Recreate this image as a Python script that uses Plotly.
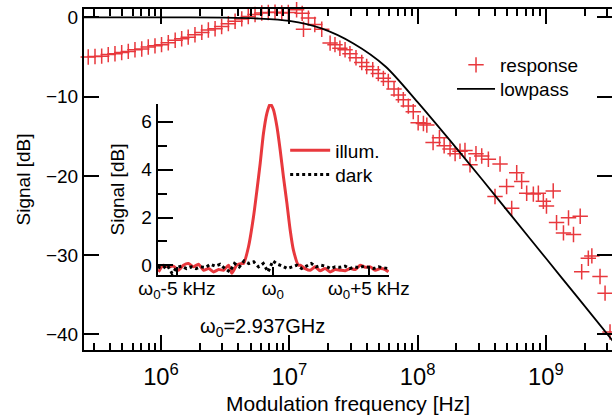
import plotly.graph_objects as go

# ---------------- main panel data ----------------
resp_freq = [2.41e5, 2.71e5, 3.06e5, 3.45e5, 3.88e5, 4.38e5, 4.94e5, 5.56e5, 6.27e5, 7.08e5,
             7.96e5, 8.98e5, 1.01e6, 1.14e6, 1.29e6, 1.45e6, 1.63e6, 1.84e6, 2.08e6, 2.34e6,
             2.64e6, 2.97e6, 3.35e6, 3.78e6, 4.26e6, 4.79e6, 5.41e6, 6.10e6, 6.86e6, 7.74e6,
             8.73e6, 9.82e6, 1.14e7, 1.26e7, 1.29e7, 1.41e7, 1.58e7, 1.79e7, 2.08e7, 2.27e7,
             2.48e7, 2.72e7, 2.97e7, 3.31e7, 3.67e7, 4.01e7, 4.47e7, 4.94e7, 5.41e7, 5.91e7,
             6.55e7, 7.08e7, 7.74e7, 8.47e7, 9.25e7, 1.01e8, 1.11e8, 1.18e8, 1.32e8, 1.48e8,
             1.61e8, 1.79e8, 1.96e8, 2.14e8, 2.34e8, 2.56e8, 2.85e8, 3.16e8, 3.56e8, 4.01e8,
             4.39e8, 4.94e8, 5.41e8, 5.92e8, 6.47e8, 7.08e8, 7.98e8, 8.73e8, 9.55e8, 1.01e9,
             1.14e9, 1.21e9, 1.37e9, 1.50e9, 1.64e9, 1.85e9, 1.90e9, 2.14e9, 2.28e9, 2.64e9,
             2.89e9, 3.16e9]
resp_db = [-5.1, -5.0, -4.95, -4.9, -4.7, -4.6, -4.45, -4.3, -4.1, -4.0,
           -3.75, -3.6, -3.45, -3.2, -2.9, -2.7, -2.5, -2.2, -1.9, -1.6,
           -1.45, -1.15, -0.8, -0.5, -0.2, 0.1, 0.35, 0.55, 0.6, 0.65,
           0.55, 0.6, 0.95, 0.5, -1.5, -0.1, -0.9, -1.5, -3.25, -3.45,
           -3.9, -4.1, -4.6, -5.1, -5.7, -6.2, -6.6, -7.1, -7.7, -8.1,
           -9.05, -9.8, -10.4, -11.2, -11.9, -13.3, -13.4, -13.6, -15.8, -15.2,
           -16.2, -16.6, -17.2, -16.9, -16.8, -18.6, -17.2, -17.5, -17.9, -22.6,
           -18.5, -21.35, -24.1, -19.6, -20.7, -22.2, -22.3, -22.2, -23.2, -23.8,
           -21.9, -25.9, -27.2, -25.3, -27.4, -25.1, -32.1, -30.4, -30.1, -32.7,
           -34.8, -39.7]

lp_freq = [2.5e5, 1e6, 3.16e6, 5.62e6, 1e7, 1.78e7, 3.16e7, 5.62e7, 1e8,
           1.78e8, 3.16e8, 5.62e8, 1e9, 1.78e9, 3.31e9]
lp_db = [0.0, 0.0, -0.05, -0.15, -0.45, -1.4, -3.3, -6.2, -10.7,
         -15.5, -20.4, -25.4, -30.4, -35.4, -40.8]

# ---------------- inset data ----------------
illum_khz = [-5.96, -5.70, -5.44, -5.18, -4.92, -4.66, -4.40, -4.14, -3.88, -3.61,
             -3.35, -3.09, -2.83, -2.57, -2.31, -2.14, -1.88, -1.61, -1.53, -1.27,
             -1.01, -0.83, -0.66, -0.49, -0.31, -0.14, 0.03, 0.21, 0.38, 0.55,
             0.73, 0.90, 1.07, 1.33, 1.42, 1.68, 1.94, 2.20, 2.46, 2.72,
             2.98, 3.24, 3.51, 3.77, 4.03, 4.29, 4.55, 4.81, 5.07, 5.33,
             5.59, 5.85, 6.02]
illum_db = [-0.27, 0.01, -0.06, -0.03, -0.20, 0.01, 0.08, -0.06, 0.05, -0.20,
            -0.13, -0.27, -0.17, -0.20, 0.01, -0.33, 0.01, 0.08, 0.08, 0.78,
            2.03, 3.15, 4.27, 5.52, 6.36, 6.75, 6.50, 5.80, 4.82, 3.70,
            2.60, 1.48, 0.64, 0.01, 0.01, -0.13, -0.20, -0.06, -0.22, -0.13,
            -0.27, -0.17, -0.20, -0.22, -0.13, -0.17, 0.01, -0.08, -0.06, -0.20,
            -0.13, -0.17, -0.27]

dark_khz = [-6.0, -5.75, -5.5, -5.25, -5.0, -4.75, -4.5, -4.25, -4.0, -3.75,
            -3.5, -3.25, -3.0, -2.75, -2.5, -2.25, -2.0, -1.75, -1.5, -1.25,
            -1.0, -0.75, -0.5, -0.25, 0.0, 0.25, 0.5, 0.75, 1.0, 1.25,
            1.5, 1.75, 2.0, 2.25, 2.5, 2.75, 3.0, 3.25, 3.5, 3.75,
            4.0, 4.25, 4.5, 4.75, 5.0, 5.25, 5.5, 5.75, 6.0]
dark_db = [-0.06, -0.13, 0.01, -0.34, -0.08, -0.03, -0.13, -0.06, -0.13, -0.06,
           -0.08, 0.05, -0.03, 0.05, -0.13, -0.27, 0.08, -0.06, 0.19, 0.08,
           0.15, -0.06, 0.08, -0.27, 0.19, 0.05, -0.03, -0.13, -0.06, 0.01,
           -0.13, -0.03, 0.08, -0.06, 0.01, -0.03, -0.13, -0.06, -0.08, -0.03,
           -0.13, -0.06, -0.10, -0.03, -0.08, -0.13, -0.06, -0.08, -0.13]

inset_ticks = [-5, 0, 5]
inset_ticktext = ["ω<sub>0</sub>-5 kHz", "ω<sub>0</sub>", "ω<sub>0</sub>+5 kHz"]

RED = "#e8383d"
FONT = "Liberation Sans, Arial, sans-serif"
FS = 19

fig = go.Figure()
fig.add_trace(go.Scatter(x=resp_freq, y=resp_db, mode="markers", name="response",
                         marker=dict(symbol="cross-thin", size=11,
                                     line=dict(width=1.5, color=RED), color=RED),
                         cliponaxis=False, legend="legend"))
fig.add_trace(go.Scatter(x=lp_freq, y=lp_db, mode="lines", name="lowpass",
                         line=dict(color="black", width=1.8, shape="spline", smoothing=0.8),
                         legend="legend2"))
fig.add_trace(go.Scatter(x=illum_khz, y=illum_db, mode="lines", name="illum.",
                         line=dict(color=RED, width=3, shape="spline", smoothing=0.6),
                         xaxis="x2", yaxis="y2", legend="legend3"))
fig.add_trace(go.Scatter(x=dark_khz, y=dark_db, mode="lines", name="dark",
                         line=dict(color="black", width=3, dash="dot"),
                         xaxis="x2", yaxis="y2", legend="legend4"))

axis_common = dict(showline=True, linecolor="black", linewidth=2, ticks="inside",
                   tickcolor="black", tickwidth=1.6, showgrid=False, zeroline=False,
                   tickfont=dict(family=FONT, size=FS, color="black"))


def leg(x, y, w):
    return dict(x=x, y=y, xref="paper", yref="paper", xanchor="left", yanchor="top",
                bgcolor="rgba(0,0,0,0)", font=dict(family=FONT, size=FS),
                tracegroupgap=0, itemwidth=w)


fig.update_layout(
    width=612, height=419,
    margin=dict(l=84, r=0, t=9, b=69, autoexpand=False),
    paper_bgcolor="white", plot_bgcolor="rgba(0,0,0,0)",
    font=dict(family=FONT, size=FS, color="black"),
    xaxis=dict(type="log", range=[5.400, 9.515], dtick=1, exponentformat="power",
               mirror="ticks", ticklen=15, ticklabelstandoff=5,
               minor=dict(ticks="inside", ticklen=7, tickwidth=1.6, tickcolor="black", dtick="D1"),
               title=dict(text="Modulation frequency [Hz]", font=dict(size=21), standoff=8),
               anchor="y", **axis_common),
    yaxis=dict(range=[-41.97, 1.05], dtick=10, mirror="ticks", ticklen=15,
               title=dict(text="Signal [dB]", font=dict(size=FS), standoff=10),
               anchor="x", **axis_common),
    xaxis2=dict(domain=[0.1396, 0.5777], range=[-6.0, 6.05], tickvals=inset_ticks,
                ticktext=inset_ticktext, ticklen=8, ticklabelstandoff=-5,
                anchor="y2", **axis_common),
    yaxis2=dict(domain=[0.2199, 0.7214], range=[-0.4, 6.74], tickvals=[0, 2, 4, 6],
                ticklen=15,
                minor=dict(tickvals=[1, 3, 5], ticks="inside", ticklen=9, tickwidth=1.6,
                           tickcolor="black"),
                title=dict(text="Signal [dB]", font=dict(size=FS), standoff=12),
                anchor="x2", **axis_common),
    legend=leg(0.697, 0.8915, 38),
    legend2=leg(0.697, 0.8211, 38),
    legend3=leg(0.381, 0.641, 40),
    legend4=leg(0.381, 0.570, 40),
    showlegend=True,
)

fig.add_annotation(text="ω<sub>0</sub>=2.937GHz", x=-0.56, xref="x2", y=0.0674, yref="paper",
                   showarrow=False, xanchor="center", yanchor="middle",
                   font=dict(family=FONT, size=20, color="black"))

fig.write_html("out.html")
